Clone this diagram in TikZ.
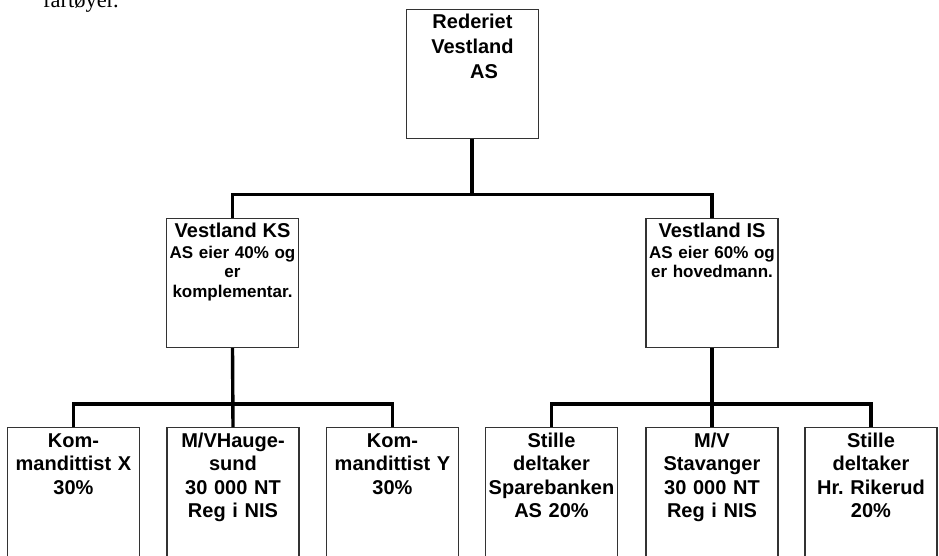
\documentclass[tikz,border=0pt]{standalone}
\usepackage{fontspec}
\setmainfont{Liberation Sans}
\newfontfamily\serifnote{Liberation Serif}
\frenchspacing
\newcommand{\firstln}{\rule{0pt}{15pt}}
\begin{document}
\begin{tikzpicture}[x=1pt,y=-1pt,
  box/.style={draw=black!80,line width=1.2pt,rectangle,inner sep=0pt,minimum width=132pt},
  conn/.style={draw=black,line width=3.4pt},
  boxtext/.style={anchor=north,inner sep=0pt,text width=132pt,align=center,font=\bfseries\fontsize{20}{23.5}\selectfont},
  midtext/.style={anchor=north,inner sep=0pt,text width=132pt,align=center,font=\bfseries\fontsize{17}{19.5}\selectfont}]
\useasboundingbox (0,0) rectangle (939,555);
\fill[white] (0,0) rectangle (939,555);
% note text at top left (cut off)
\node[anchor=base west,inner sep=0pt,font=\serifnote\fontsize{22.5}{25}\selectfont] (note) at (43,7.3) {fartøyer.};
% boxes
\node[box,minimum height=129.3pt,anchor=north] (top) at (472.5,8.7) {};
\node[box,minimum height=129.3pt,anchor=north] (ks) at (232.5,217.7) {};
\node[box,minimum height=129.3pt,anchor=north] (is) at (712,217.7) {};
\node[box,minimum height=160pt,anchor=north] (b1) at (73.5,427) {};
\node[box,minimum height=160pt,anchor=north] (b2) at (233,427) {};
\node[box,minimum height=160pt,anchor=north] (b3) at (392.5,427) {};
\node[box,minimum height=160pt,anchor=north] (b4) at (551.5,427) {};
\node[box,minimum height=160pt,anchor=north] (b5) at (712,427) {};
\node[box,minimum height=160pt,anchor=north] (b6) at (871,427) {};
% texts
\node[boxtext,font=\bfseries\fontsize{20}{25}\selectfont] (ttop) at ([yshift=-4.3pt]top.north) {\firstln Rederiet\\Vestland\\\hspace*{23pt}AS};
\node[midtext] (tks) at ([yshift=-4.3pt]ks.north) {\firstln{\fontsize{20}{21}\selectfont Vestland KS}\\[1.5pt]AS eier 40\% og\\er\\komplementar.};
\node[midtext] (tis) at ([yshift=-4.3pt]is.north) {\firstln{\fontsize{20}{21}\selectfont Vestland IS}\\[1.5pt]AS eier 60\% og\\er hovedmann.};
\node[boxtext] (t1) at ([yshift=-5pt]b1.north) {\firstln Kom-\\mandittist X\\30\%};
\node[boxtext] (t2) at ([yshift=-5pt]b2.north) {\firstln M/VHauge-\\sund\\30 000 NT\\Reg i NIS};
\node[boxtext] (t3) at ([yshift=-5pt]b3.north) {\firstln Kom-\\mandittist Y\\30\%};
\node[boxtext] (t4) at ([yshift=-5pt]b4.north) {\firstln Stille\\deltaker\\Sparebanken\\AS 20\%};
\node[boxtext] (t5) at ([yshift=-5pt]b5.north) {\firstln M/V\\Stavanger\\30 000 NT\\Reg i NIS};
\node[boxtext] (t6) at ([yshift=-5pt]b6.north) {\firstln Stille\\deltaker\\Hr. Rikerud\\20\%};
% connectors
\coordinate (j0) at (472,194.5);
\coordinate (jl) at (233,404);
\coordinate (jr) at (711.5,404);
\draw[conn] (top.south -| j0) -- (j0);
\draw[conn] (ks.north) -- (ks.north |- j0) -- (is.north |- j0) -- (is.north);
\draw[conn] (ks.south) -- (b2.north);
\draw[conn] (b1.north) -- (b1.north |- jl) -- (b3.north |- jl) -- (b3.north);
\draw[conn] (is.south) -- (b5.north);
\draw[conn] (b4.north) -- (b4.north |- jr) -- (b6.north |- jr) -- (b6.north);
\end{tikzpicture}
\end{document}
